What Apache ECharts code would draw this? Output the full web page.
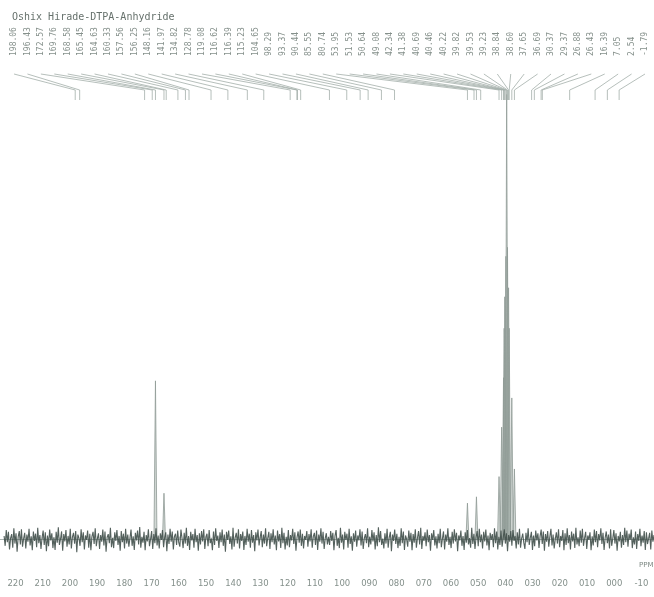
<!DOCTYPE html>
<html>
<head>
<meta charset="utf-8">
<script src="https://cdn.jsdelivr.net/npm/echarts@6/dist/echarts.min.js"></script>
<style>
  html, body { margin: 0; padding: 0; background: #ffffff; }
  #chart { width: 654px; height: 597px; }
</style>
</head>
<body>
<div id="chart"></div>
<script>
// 13C spectrum of DTPA anhydride in DMSO-d6

const titleText = 'Oshix Hirade-DTPA-Anhydride';

// picked peak list printed above the trace (ppm)
const peakLabels = [
  '198.06', '196.43', '172.57', '169.76', '168.58', '165.45', '164.63', '160.33',
  '157.56', '156.25', '148.16', '141.97', '134.82', '128.78', '119.08', '116.62',
  '116.39', '115.23', '104.65', '98.29', '93.37', '90.44', '85.55', '80.74',
  '53.95', '51.53', '50.64', '49.08', '42.34', '41.38', '40.69', '40.46',
  '40.22', '39.82', '39.53', '39.23', '38.84', '38.60', '37.65', '36.69',
  '30.37', '29.37', '26.88', '26.43', '16.39', '7.05', '2.54', '-1.79'
];

// resolved signals: position (ppm) and intensity (arb. units)
const peakPpm = [168.58, 165.45, 53.95, 50.64,
  42.34, 41.38, 40.69, 40.46, 40.22, 39.82, 39.53, 39.23, 38.84, 38.60, 37.65, 36.69];
const peakHeight = [353, 103, 81, 95,
  140, 250, 360, 470, 540, 630, 990, 650, 560, 470, 315, 157];

// baseline noise, sampled evenly from noiseFrom to noiseTo (ppm)
const noiseFrom = 224.2;
const noiseTo = -14.6;
const noise = [
  8, -14, 21, -6, 17, -22, 3, 12, -18, 25, -9, 14, -27, 6, 19, -11, 23, -16, 2, 15,
  -20, 11, -5, 24, -13, 7, -24, 18, -3, 13, -17, 26, -8, 10, -21, 4, 20, -12, 16, -26,
  9, -15, 22, -2, 14, -19, 5, -23, 17, -7, 27, -12, 1, 18, -25, 12, -4, 21, -16, 8,
  -11, 24, -20, 6, 15, -9, 19, -28, 11, 3, -14, 23, -6, 16, -22, 9, -1, 20, -18, 13,
  -24, 7, 17, -10, 25, -15, 2, 14, -21, 10, -5, 22, -13, 18, -27, 5, 12, -8, 26, -17,
  4, -19, 16, -3, 21, -12, 8, -25, 19, -6, 13, -20, 24, -9, 11, -16, 3, 22, -14, 7,
  -23, 15, -2, 20, -11, 28, -18, 6, -7, 17, -24, 10, -4, 23, -15, 1, 19, -21, 12, -8,
  25, -13, 9, -20, 14, -1, 21, -17, 5, 16, -26, 11, -10, 24, -5, 18, -22, 7, 13, -12,
  20, -7, -16, 22, 3, -19, 15, -9, 26, -14, 8, -23, 17, -2, 12, -18, 24, -6, 10, -25,
  14, -11, 19, -4, 23, -21, 6, 13, -15, 21, -8, 2, -24, 18, -12, 25, -3, 9, -19, 16,
  -6, 22, -14, 11, -27, 17, -1, 20, -10, 7, -22, 26, -16, 4, 15, -9, 23, -20, 12, -3,
  18, -23, 8, -12, 24, -5, 13, -18, 21, -7, 10, -26, 16, -2, 22, -13, 5, 19, -17, 11,
  -9, 25, -15, 3, 17, -21, 14, -6, 23, -11, 9, -24, 20, -4, 12, -19, 26, -8, 15, -22,
  6, -13, 21, -17, 10, -2, 24, -10, 16, -25, 5, 18, -7, 22, -14, 13, -20, 8, -1, 19,
  -16, 12, -4, 23, -18, 7, 15, -12, 20, -23, 11, -5, 25, -9, 17, -21, 3, 14, -11, 6,
  -12, 19, -3, 15, -24, 8, 21, -14, 4, -19, 26, -7, 11, -22, 17, -1, 13, -18, 24, -10,
  7, -25, 14, -5, 20, -16, 9, -2, 23, -13, 18, -21, 3, 12, -8, 25, -17, 6, -11, 21,
  -4, 16, -22, 10, -15, 27, -6, 19, -12, 2, -20, 14, -9, 24, -18, 5, 17, -26, 11, -3,
  22, -10, 13, -19, 6, -14, 25, -8, 18, -23, 9, 1, -16, 20, -5, 15, -24, 12, -7, 23,
  -18, 4, 19, -11, 26, -21, 8, -3, 16, -15, 22, -6, 10, -25, 14, -1, 21, -13, 7, -20,
  13, -8, 24, -17, 2, 18, -22, 11, -5, 25, -12, 6, -19, 17, -9, 23, -4, 15, -26, 9,
  -2, 20, -14, 8, -23, 16, -7, 21, -11, 3, -18, 26, -10, 13, -21, 5, 19, -15, 24, -6,
  11, -20, 17, -4, 22, -13, 9, -24, 15, -1, 12, -17, 25, -8, 18, -22, 6, -12, 20, -16,
  3, 23, -9, 14, -26, 10, -5, 19, -14, 21, -3, 8, -20, 16, -11, 24, -18, 2, 13, -7,
  -21, 15, -6, 25, -12, 4, 17, -23, 9, -15, 20, -2, 14, -19, 7, 22, -10, 18, -25, 12,
  -5, 19, -16, 6, 24, -13, 11, -20, 1, 16, -9, 23, -17, 8, -3, 21, -24, 14, -12, 25,
  -8, 10, -22, 18, -4, 13, -19, 26, -11, 5, -15, 20, -7, 24, -14, 3, 17, -21, 9, -1,
  16, -24, 7, -13, 22, -6, 19, -17, 12, -2, 25, -10, 15, -23, 4, 18, -8, 11, -20, 23,
  -14, 2, 21, -9, 14, -25, 8, -4, 17, -18, 10, -12, 26, -6, 20, -16, 13, -1, 22, -19,
  5, -11, 18, -21, 12, -3, 24, -15, 9, -7, 19, -23, 16, -10, 2, 15, -22, 20, -5, 10
];

// ppm scale tick labels, 220 down to -10
const tickValues = [220, 210, 200, 190, 180, 170, 160, 150, 140, 130, 120, 110,
  100, 90, 80, 70, 60, 50, 40, 30, 20, 10, 0, -10];
const tickText = ['220', '210', '200', '190', '180', '170', '160', '150', '140', '130', '120', '110',
  '100', '090', '080', '070', '060', '050', '040', '030', '020', '010', '000', '-10'];

// ---- derived tables ----
const noiseStep = (noiseFrom - noiseTo) / (noise.length - 1);
const noiseData = noise.map((v, i) => [noiseFrom - i * noiseStep, v]);
const peakData = peakPpm.map((p, i) => [p, peakHeight[i]]);

// label columns are spread evenly across the top of the plot
const labelFirst = 220.55, labelLast = -11.29;
const labelStep = (labelFirst - labelLast) / (peakLabels.length - 1);
const labelData = peakLabels.map((t, i) => [labelFirst - i * labelStep, parseFloat(t), i]);

const chart = echarts.init(document.getElementById('chart'), null, { renderer: 'canvas' });

const gridLeft = -11.7, gridRight = -14.7;
const inkLight = '#8f9b96';

const option = {
  animation: false,
  backgroundColor: '#ffffff',
  graphic: [
    {
      type: 'text', left: 12, top: 12,
      style: { text: titleText, font: '10px "DejaVu Sans Mono"', fill: '#66716c' }
    },
    {
      type: 'text', left: 639, top: 562,
      style: { text: 'PPM', font: '7px "DejaVu Sans"', fill: '#7d8883' }
    }
  ],
  grid: [
    { left: gridLeft, right: gridRight, top: 90, bottom: 26, outerBoundsMode: 'none', containLabel: false },
    { left: gridLeft, right: gridRight, top: 25, height: 75, outerBoundsMode: 'none', containLabel: false }
  ],
  xAxis: [
    {
      type: 'value', gridIndex: 0, min: -20, max: 230, interval: 10, inverse: true,
      axisLine: { show: true, lineStyle: { color: '#aab4b0', width: 1 } },
      axisTick: { show: true, inside: true, length: 3, lineStyle: { color: '#b3bcb8' } },
      minorTick: { show: true, splitNumber: 5, length: 2, lineStyle: { color: '#c2cac6' } },
      splitLine: { show: false },
      axisLabel: {
        margin: 8, fontSize: 8.5, fontFamily: 'DejaVu Sans', color: '#84908b',
        formatter: (v) => {
          const k = tickValues.indexOf(Math.round(v));
          return k >= 0 ? tickText[k] : '';
        }
      }
    },
    {
      type: 'value', gridIndex: 1, min: -20, max: 230, inverse: true, show: false
    }
  ],
  yAxis: [
    { type: 'value', gridIndex: 0, min: -70, max: 1000, show: false },
    { type: 'value', gridIndex: 1, min: 0, max: 75, inverse: true, show: false }
  ],
  series: [
    {
      // resolved signals as narrow sticks
      type: 'custom', xAxisIndex: 0, yAxisIndex: 0, z: 2,
      data: peakData,
      renderItem: (params, api) => {
        const p = api.value(0), h = api.value(1);
        const w = 0.55;
        const a = api.coord([p + w, 0]);
        const t = api.coord([p, h]);
        const b = api.coord([p - w, 0]);
        return {
          type: 'polygon',
          shape: { points: [a, t, b] },
          style: { fill: 'rgba(165,177,172,0.5)', stroke: inkLight, lineWidth: 0.8 }
        };
      }
    },
    {
      // baseline noise trace
      type: 'line', xAxisIndex: 0, yAxisIndex: 0, z: 3,
      data: noiseData, symbol: 'none', smooth: false,
      lineStyle: { color: '#41504b', width: 1.1, opacity: 0.9 }
    },
    {
      // peak list labels with leader lines down to each position
      type: 'custom', xAxisIndex: 1, yAxisIndex: 1, z: 4,
      data: labelData,
      renderItem: (params, api) => {
        const lx = api.value(0), px = api.value(1);
        const text = peakLabels[api.value(2)];
        const anchor = api.coord([lx, 31]);
        const s = api.coord([lx, 49]);
        const m = api.coord([px, 65]);
        const e = api.coord([px, 75]);
        return {
          type: 'group',
          children: [
            {
              type: 'text', x: anchor[0], y: anchor[1], rotation: Math.PI / 2,
              style: {
                text: text, font: '8px "DejaVu Sans Mono"', fill: '#85908b',
                align: 'left', verticalAlign: 'middle'
              }
            },
            {
              type: 'polyline',
              shape: { points: [s, m, e] },
              style: { stroke: '#a3aeaa', lineWidth: 0.8, fill: null }
            }
          ]
        };
      }
    }
  ]
};

chart.setOption(option);
</script>
</body>
</html>
